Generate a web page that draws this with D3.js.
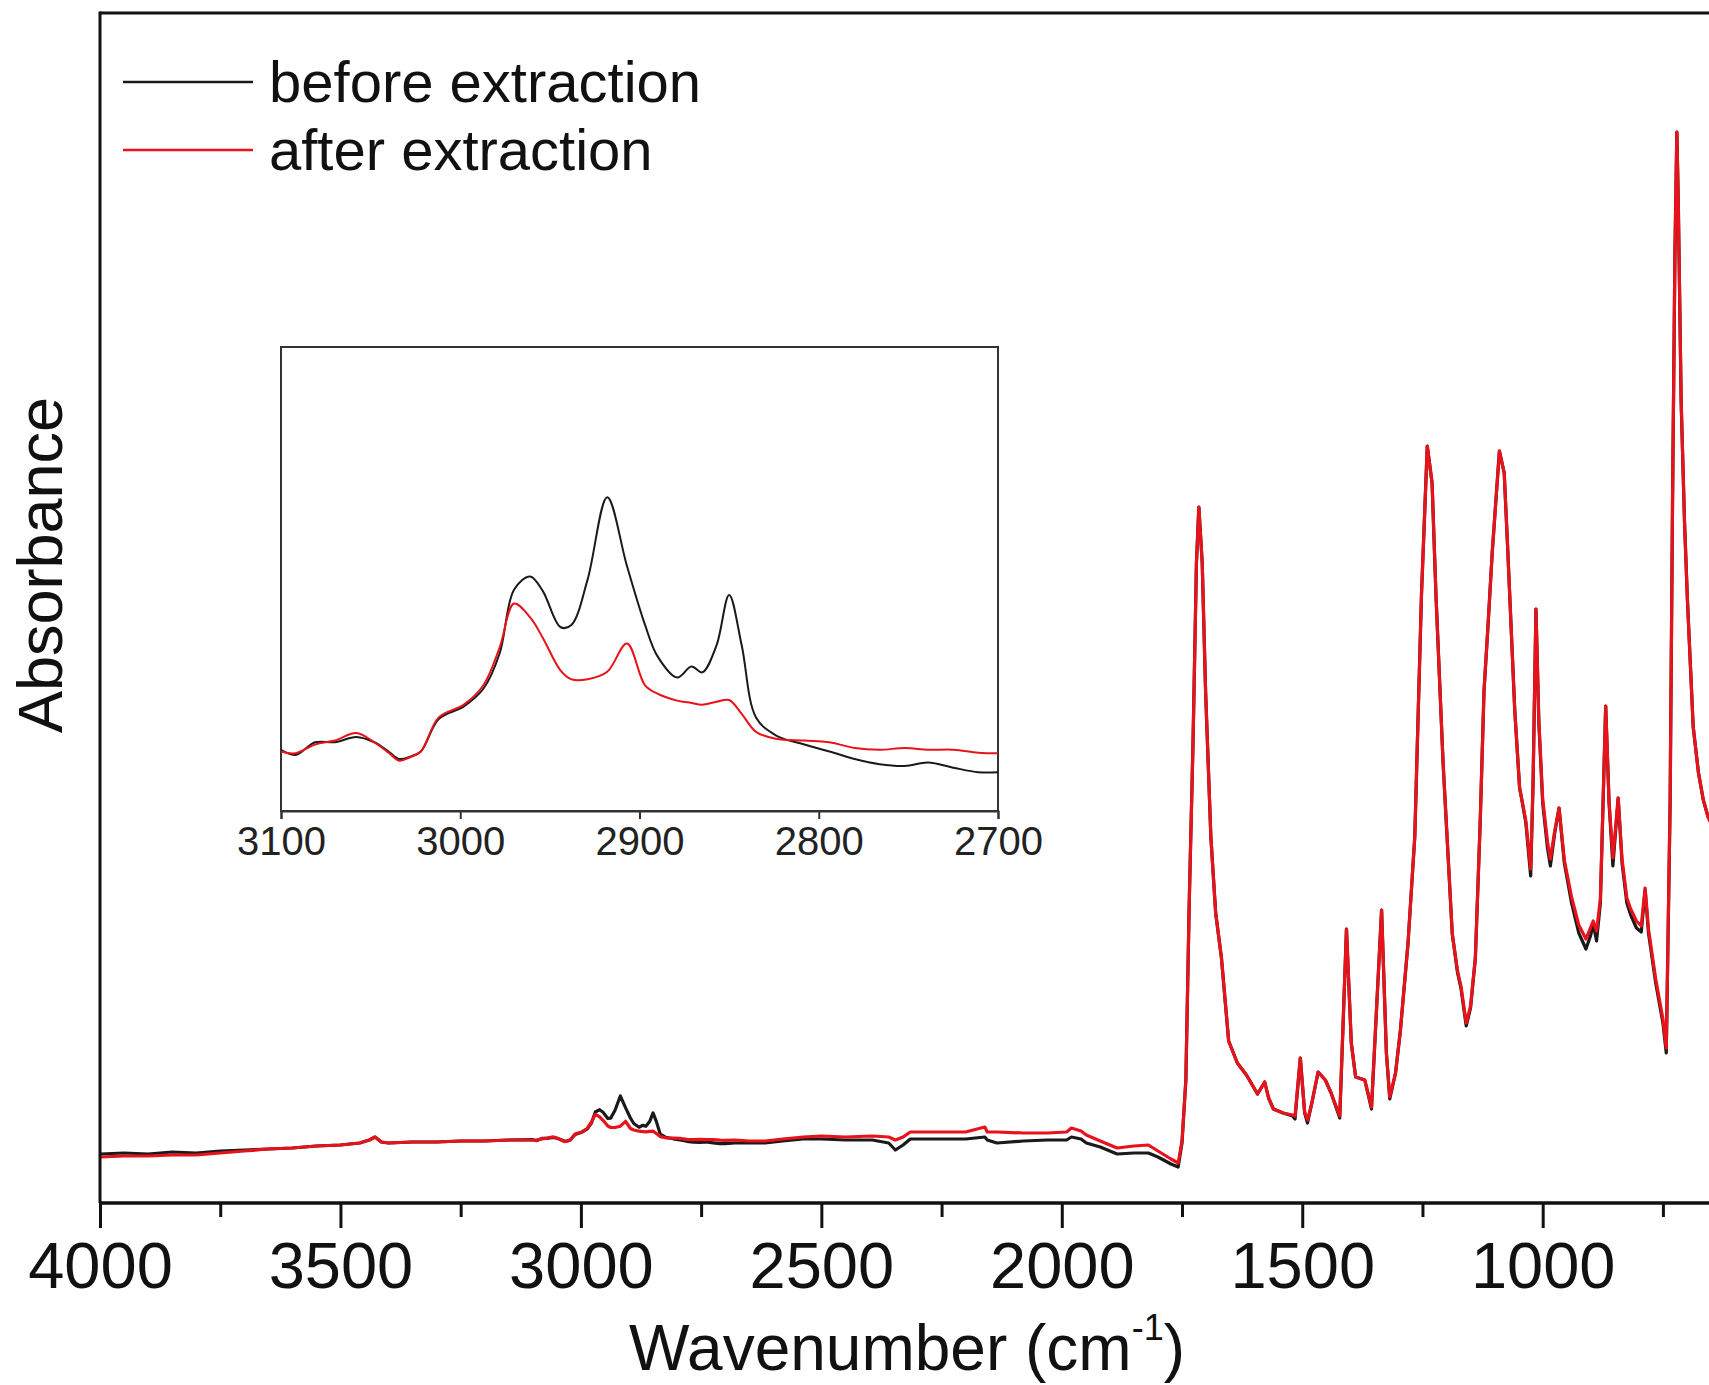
<!DOCTYPE html>
<html lang="en">
<head>
    <meta charset="UTF-8">
    <title>FTIR spectra before and after extraction</title>
    <script src="https://d3js.org/d3.v7.min.js"></script>
    <style>
        body {
            margin: 0;
            background: #fff;
        }
        svg {
            display: block;
            font-family: "Liberation Sans", Arial, sans-serif;
        }
    </style>
</head>
<body>
    <svg id="chart" width="1709" height="1385"></svg>
    <script>
        // wavenumber grid + absorbance (arbitrary units)
        const wnHigh = [4000, 3950, 3900, 3850, 3800, 3750, 3700, 3650, 3600, 3550, 3500, 3460, 3440, 3428, 3415, 3400, 3350, 3300, 3250, 3200, 3150];
        const beforeHigh = [0.049, 0.050, 0.049, 0.051, 0.050, 0.052, 0.053, 0.054, 0.055, 0.057, 0.058, 0.060, 0.063, 0.066, 0.061, 0.060, 0.061, 0.061, 0.062, 0.062, 0.063];
        const afterHigh = [0.046, 0.047, 0.047, 0.048, 0.048, 0.050, 0.052, 0.054, 0.055, 0.057, 0.058, 0.060, 0.063, 0.066, 0.061, 0.060, 0.061, 0.061, 0.062, 0.062, 0.063];

        // C-H stretching region (also drawn in the inset)
        const wnInset = [3100, 3092, 3081, 3070, 3058, 3048, 3040, 3034, 3028, 3022, 3012, 2998, 2987, 2978, 2970, 2961, 2954, 2944, 2938, 2929, 2918, 2907, 2897, 2890, 2879, 2871, 2865, 2857, 2850, 2843, 2835, 2824, 2808, 2794, 2780, 2766, 2752, 2739, 2725, 2711, 2700];
        const beforeInset = [0.0633, 0.0624, 0.0646, 0.0646, 0.0655, 0.0646, 0.0630, 0.0617, 0.0621, 0.0630, 0.0686, 0.0708, 0.0739, 0.0800, 0.0910, 0.0933, 0.0908, 0.0845, 0.0849, 0.0927, 0.1070, 0.0951, 0.0850, 0.0795, 0.0758, 0.0777, 0.0767, 0.0814, 0.0901, 0.0814, 0.0689, 0.0658, 0.0642, 0.0630, 0.0617, 0.0608, 0.0605, 0.0611, 0.0602, 0.0594, 0.0594];
        const afterInset = [0.0630, 0.0627, 0.0642, 0.0649, 0.0662, 0.0646, 0.0628, 0.0614, 0.0620, 0.0630, 0.0689, 0.0711, 0.0745, 0.0810, 0.0886, 0.0862, 0.0827, 0.0770, 0.0755, 0.0755, 0.0768, 0.0817, 0.0745, 0.0730, 0.0718, 0.0714, 0.0711, 0.0716, 0.0719, 0.0695, 0.0664, 0.0652, 0.0649, 0.0646, 0.0636, 0.0633, 0.0636, 0.0633, 0.0633, 0.0628, 0.0627];

        const wnLow = [2680, 2650, 2617, 2580, 2538, 2500, 2450, 2394, 2360, 2346, 2330, 2315, 2250, 2200, 2160, 2155, 2135, 2080, 2030, 1990, 1980, 1960, 1949, 1920, 1885, 1850, 1820, 1800, 1773, 1758,
            1750, 1742, 1735, 1727, 1720, 1715, 1708, 1701, 1690, 1680, 1668, 1653, 1635, 1616, 1593, 1578, 1570, 1560, 1540, 1520, 1515, 1504, 1495, 1489, 1480, 1467, 1452, 1440, 1422, 1408, 1398, 1389, 1370, 1356, 1335, 1325, 1318, 1306, 1296, 1280, 1266, 1252, 1240, 1230, 1222, 1207, 1188, 1177, 1170, 1159, 1150, 1140, 1130, 1122, 1114, 1105, 1090, 1080, 1073, 1058, 1048, 1044, 1035, 1025, 1020, 1014, 1008, 1000, 990, 984, 975, 966, 955, 940, 925, 910, 900, 895, 888, 880, 869, 862, 854, 843, 835, 825, 817, 805, 795, 787, 780, 765, 750, 743, 735, 730, 725, 721, 718, 712, 705, 699, 687, 676, 666, 656, 650];
        const beforeLow = [0.060, 0.060, 0.060, 0.062, 0.064, 0.064, 0.063, 0.063, 0.060, 0.053, 0.058, 0.064, 0.064, 0.064, 0.066, 0.063, 0.060, 0.062, 0.063, 0.063, 0.066, 0.064, 0.060, 0.056, 0.049, 0.050, 0.050, 0.046, 0.039, 0.036,
            0.060, 0.123, 0.300, 0.463, 0.640, 0.696, 0.640, 0.512, 0.366, 0.290, 0.245, 0.162, 0.140, 0.128, 0.109, 0.121, 0.105, 0.094, 0.090, 0.087, 0.084, 0.145, 0.090, 0.080, 0.100, 0.131, 0.123, 0.110, 0.085, 0.274, 0.160, 0.126, 0.123, 0.094, 0.293, 0.150, 0.104, 0.130, 0.172, 0.260, 0.366, 0.609, 0.757, 0.720, 0.609, 0.439, 0.269, 0.230, 0.215, 0.177, 0.195, 0.245, 0.380, 0.512, 0.575, 0.650, 0.752, 0.730, 0.657, 0.492, 0.415, 0.405, 0.380, 0.327, 0.420, 0.594, 0.480, 0.400, 0.355, 0.337, 0.370, 0.395, 0.340, 0.300, 0.270, 0.254, 0.268, 0.279, 0.262, 0.300, 0.497, 0.400, 0.337, 0.405, 0.340, 0.300, 0.288, 0.275, 0.271, 0.313, 0.270, 0.220, 0.180, 0.150, 0.400, 0.700, 0.950, 1.071, 1.000, 0.800, 0.680, 0.603, 0.476, 0.430, 0.403, 0.386, 0.380];
        const afterLow = [0.063, 0.062, 0.062, 0.064, 0.066, 0.067, 0.066, 0.067, 0.066, 0.063, 0.066, 0.071, 0.071, 0.071, 0.076, 0.071, 0.071, 0.070, 0.070, 0.071, 0.075, 0.072, 0.068, 0.062, 0.055, 0.057, 0.058, 0.052, 0.044, 0.040,
            0.062, 0.123, 0.300, 0.463, 0.640, 0.696, 0.640, 0.512, 0.366, 0.290, 0.245, 0.162, 0.140, 0.128, 0.109, 0.121, 0.105, 0.094, 0.090, 0.088, 0.087, 0.145, 0.091, 0.083, 0.100, 0.131, 0.123, 0.110, 0.087, 0.274, 0.160, 0.126, 0.123, 0.096, 0.293, 0.150, 0.106, 0.130, 0.172, 0.260, 0.366, 0.609, 0.757, 0.720, 0.609, 0.439, 0.269, 0.232, 0.217, 0.180, 0.197, 0.245, 0.380, 0.512, 0.575, 0.650, 0.752, 0.730, 0.657, 0.492, 0.415, 0.405, 0.382, 0.334, 0.420, 0.594, 0.482, 0.404, 0.361, 0.344, 0.372, 0.395, 0.343, 0.306, 0.278, 0.264, 0.276, 0.282, 0.272, 0.304, 0.497, 0.402, 0.345, 0.405, 0.344, 0.305, 0.294, 0.282, 0.277, 0.315, 0.274, 0.224, 0.184, 0.155, 0.400, 0.700, 0.950, 1.071, 1.000, 0.800, 0.680, 0.603, 0.476, 0.430, 0.403, 0.386, 0.380];

        const majorTicks = [4000, 3500, 3000, 2500, 2000, 1500, 1000];
        const minorTicks = [3750, 3250, 2750, 2250, 1750, 1250, 750];
        const insetTicks = [3100, 3000, 2900, 2800, 2700];
        const seriesNames = ["before extraction", "after extraction"];
        const seriesColors = ["#1a1a1a", "#e8121b"];

        const svg = d3.select("#chart");
        const mLeft = 100, mTop = 13, mBottom = 1203, mRight = 1711;

        const x = d3.scaleLinear().domain([4000, 650]).range([mLeft, mRight]);
        const y = d3.scaleLinear().domain([0, 1.19]).range([mBottom, mTop]);

        const zip = (wn, vals) => wn.map((w, i) => [w, vals[i]]);
        const before = zip(wnHigh, beforeHigh).concat(zip(wnInset, beforeInset), zip(wnLow, beforeLow));
        const after = zip(wnHigh, afterHigh).concat(zip(wnInset, afterInset), zip(wnLow, afterLow));

        svg.append("defs").append("clipPath").attr("id", "mainClip")
            .append("rect").attr("x", mLeft).attr("y", mTop)
            .attr("width", 1709 - mLeft).attr("height", mBottom - mTop);

        const line = d3.line().x(d => x(d[0])).y(d => y(d[1]));

        const plot = svg.append("g").attr("clip-path", "url(#mainClip)");
        [before, after].forEach((s, i) => {
            plot.append("path")
                .datum(s)
                .attr("fill", "none")
                .attr("stroke", seriesColors[i])
                .attr("stroke-width", 3.2)
                .attr("stroke-linejoin", "round")
                .attr("d", line);
        });

        // frame: left + top (right edge is cut off in the original)
        svg.append("line").attr("x1", mLeft).attr("x2", mLeft).attr("y1", mTop - 1.5).attr("y2", mBottom)
            .attr("stroke", "#111").attr("stroke-width", 3);
        svg.append("line").attr("x1", mLeft).attr("x2", 1709).attr("y1", mTop).attr("y2", mTop)
            .attr("stroke", "#111").attr("stroke-width", 3);

        // bottom axis
        const xAxis = svg.append("g")
            .attr("transform", `translate(0,${mBottom})`)
            .call(d3.axisBottom(x).tickValues(majorTicks).tickSize(25).tickPadding(14).tickFormat(d3.format("d")));
        xAxis.select(".domain").attr("stroke", "#111").attr("stroke-width", 3.5)
            .attr("d", `M${mLeft},0H1709`);
        xAxis.selectAll(".tick line").attr("stroke", "#111").attr("stroke-width", 3);
        xAxis.selectAll(".tick text").attr("font-size", 65).attr("fill", "#111")
            .attr("font-family", "Liberation Sans, Arial, sans-serif");

        const xMinor = svg.append("g")
            .attr("transform", `translate(0,${mBottom})`)
            .call(d3.axisBottom(x).tickValues(minorTicks).tickSize(14).tickFormat(""));
        xMinor.select(".domain").remove();
        xMinor.selectAll(".tick line").attr("stroke", "#111").attr("stroke-width", 3);

        // axis titles
        const xTitle = svg.append("text")
            .attr("x", 907).attr("y", 1370)
            .attr("text-anchor", "middle")
            .attr("font-size", 64).attr("fill", "#111");
        xTitle.append("tspan").text("Wavenumber (cm");
        xTitle.append("tspan").attr("dy", -30).attr("font-size", 36).text("-1");
        xTitle.append("tspan").attr("dy", 30).text(")");

        svg.append("text")
            .attr("transform", "translate(62,565) rotate(-90)")
            .attr("text-anchor", "middle")
            .attr("font-size", 63).attr("fill", "#111")
            .text("Absorbance");

        // legend
        const legend = svg.append("g");
        seriesNames.forEach((name, i) => {
            const ly = 82 + i * 68;
            legend.append("line")
                .attr("x1", 123).attr("x2", 253).attr("y1", ly).attr("y2", ly)
                .attr("stroke", seriesColors[i]).attr("stroke-width", 2.5);
            legend.append("text")
                .attr("x", 269).attr("y", ly + 20)
                .attr("font-size", 58).attr("fill", "#111")
                .text(name);
        });

        // inset
        const ix0 = 281, ix1 = 998, iy0 = 347, iy1 = 811;
        const xi = d3.scaleLinear().domain([3100, 2700]).range([ix0, ix1]);
        const yi = d3.scaleLinear().domain([0.0527, 0.133]).range([iy1, iy0]);

        const inset = svg.append("g");
        inset.append("rect")
            .attr("x", ix0).attr("y", iy0).attr("width", ix1 - ix0).attr("height", iy1 - iy0)
            .attr("fill", "#fff").attr("stroke", "#333").attr("stroke-width", 2);

        const insetLine = d3.line().curve(d3.curveCatmullRom.alpha(0.5))
            .x(d => xi(d[0])).y(d => yi(d[1]));
        [zip(wnInset, beforeInset), zip(wnInset, afterInset)].forEach((s, i) => {
            inset.append("path")
                .datum(s)
                .attr("fill", "none")
                .attr("stroke", seriesColors[i])
                .attr("stroke-width", 2)
                .attr("stroke-linejoin", "round")
                .attr("d", insetLine);
        });

        const insetAxis = inset.append("g")
            .attr("transform", `translate(0,${iy1})`)
            .call(d3.axisBottom(xi).tickValues(insetTicks).tickSize(8).tickPadding(8).tickFormat(d3.format("d")));
        insetAxis.select(".domain").attr("stroke", "#333").attr("stroke-width", 2);
        insetAxis.selectAll(".tick line").attr("stroke", "#333").attr("stroke-width", 2);
        insetAxis.selectAll(".tick text").attr("font-size", 40).attr("fill", "#222")
            .attr("font-family", "Liberation Sans, Arial, sans-serif");
    </script>
</body>
</html>
